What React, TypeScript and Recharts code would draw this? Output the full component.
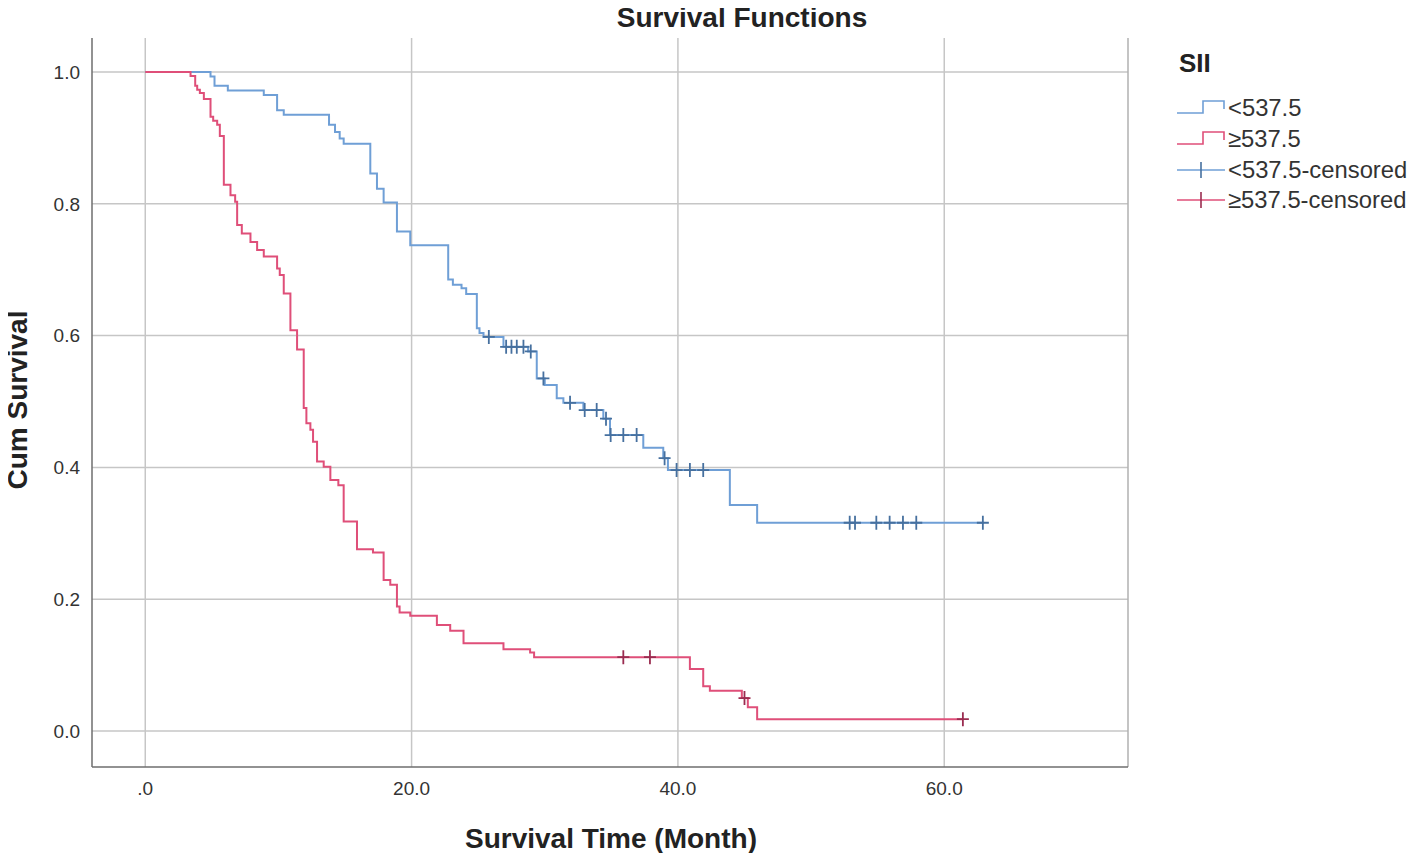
import React from 'react'
import {
  CartesianGrid,
  ComposedChart,
  Line,
  ReferenceLine,
  Scatter,
  XAxis,
  YAxis,
} from 'recharts'

// Kaplan-Meier steps: [month, cum survival]
const lowSteps: Array<[number, number]> = [
  [0, 1.0], [4.9, 0.993], [5.2, 0.979], [6.2, 0.972], [8.9, 0.965], [9.9, 0.942],
  [10.4, 0.935], [13.8, 0.92], [14.25, 0.909], [14.6, 0.899], [14.9, 0.891],
  [16.9, 0.846], [17.4, 0.823], [17.9, 0.802], [18.9, 0.758], [19.9, 0.737],
  [22.75, 0.685], [23.1, 0.677], [23.75, 0.672], [24.1, 0.663], [24.9, 0.611],
  [25.1, 0.604], [25.4, 0.598], [26.9, 0.583], [28.75, 0.576], [29.4, 0.535],
  [30.0, 0.525], [30.9, 0.505], [31.4, 0.498], [32.9, 0.487], [34.4, 0.474],
  [34.9, 0.449], [37.4, 0.43], [38.9, 0.414], [39.25, 0.396], [43.9, 0.343],
  [45.95, 0.316], [63.0, 0.316],
]

const highSteps: Array<[number, number]> = [
  [0, 1.0], [3.4, 0.994], [3.75, 0.979], [3.9, 0.973], [4.1, 0.968], [4.4, 0.959],
  [4.9, 0.932], [5.1, 0.926], [5.4, 0.92], [5.6, 0.903], [5.9, 0.829], [6.4, 0.813],
  [6.75, 0.803], [6.9, 0.768], [7.25, 0.755], [7.9, 0.742], [8.4, 0.73], [8.9, 0.72],
  [9.9, 0.702], [10.1, 0.692], [10.4, 0.664], [10.9, 0.608], [11.4, 0.579],
  [11.9, 0.49], [12.1, 0.467], [12.4, 0.457], [12.6, 0.439], [12.9, 0.409],
  [13.4, 0.401], [13.9, 0.381], [14.5, 0.373], [14.9, 0.318], [15.9, 0.276],
  [17.1, 0.271], [17.9, 0.229], [18.4, 0.222], [18.9, 0.189], [19.1, 0.18],
  [19.9, 0.175], [21.9, 0.161], [22.9, 0.152], [23.9, 0.133], [26.9, 0.124],
  [28.9, 0.119], [29.2, 0.112], [40.9, 0.094], [41.9, 0.068], [42.4, 0.061],
  [44.8, 0.05], [45.25, 0.036], [45.95, 0.018], [61.4, 0.018],
]

const lowCensored: Array<[number, number]> = [
  [25.8, 0.598], [27.1, 0.583], [27.5, 0.583], [27.9, 0.583], [28.4, 0.583],
  [28.95, 0.576], [29.9, 0.535], [31.9, 0.498], [33.0, 0.487], [33.9, 0.487],
  [34.6, 0.474], [34.95, 0.449], [35.9, 0.449], [36.9, 0.449], [39.0, 0.414],
  [39.9, 0.396], [40.9, 0.396], [41.9, 0.396], [52.9, 0.316], [53.3, 0.316],
  [54.9, 0.316], [55.9, 0.316], [56.9, 0.316], [57.9, 0.316], [62.9, 0.316],
]

const highCensored: Array<[number, number]> = [
  [35.9, 0.112], [37.9, 0.112], [45.0, 0.05], [61.4, 0.018],
]

const xTicks = [0, 20, 40, 60]
const yTicks = [0, 0.2, 0.4, 0.6, 0.8, 1.0]
const groupNames = ['<537.5', '≥537.5']

const BLUE = '#6f9fd6'
const RED = '#df4f79'
const BLUE_MARK = '#46709f'
const RED_MARK = '#9a2c50'
const FONT = 'Arial, "Liberation Sans", sans-serif'

const toRows = (pts: Array<[number, number]>) => pts.map(([t, s]) => ({ t, s }))

const censorShape = (color: string) => (props: any) => {
  const { cx, cy } = props
  if (cx == null || cy == null) return <g />
  return (
    <path
      d={`M${cx - 6},${cy}H${cx + 6}M${cx},${cy - 7}V${cy + 7}`}
      stroke={color}
      strokeWidth={1.8}
      fill="none"
    />
  )
}

const LegendBox = () => {
  const rowY = [108, 139, 170, 200]
  const items = [
    { label: groupNames[0], color: BLUE, kind: 'step' },
    { label: groupNames[1], color: RED, kind: 'step' },
    { label: `${groupNames[0]}-censored`, color: BLUE, kind: 'cross' },
    { label: `${groupNames[1]}-censored`, color: RED, kind: 'cross' },
  ]
  return (
    <div style={{ position: 'absolute', left: 0, top: 0, width: 1416, height: 861, pointerEvents: 'none' }}>
      <div style={{ position: 'absolute', left: 1179, top: 48, fontFamily: FONT, fontWeight: 'bold', fontSize: 26, color: '#222' }}>
        SII
      </div>
      <svg width={1416} height={861} style={{ position: 'absolute', left: 0, top: 0 }}>
        {items.map((it, i) => {
          const y = rowY[i]
          return (
            <g key={it.label}>
              {it.kind === 'step' ? (
                <path
                  d={`M1177,${y + 5}H1203V${y - 7}H1224V${y + 1}`}
                  stroke={it.color}
                  strokeWidth={1.6}
                  fill="none"
                />
              ) : (
                <g>
                  <path d={`M1177,${y}H1225`} stroke={it.color} strokeWidth={1.6} />
                  <path d={`M1201,${y - 8}V${y + 8}`} stroke={i === 2 ? BLUE_MARK : RED_MARK} strokeWidth={1.6} />
                </g>
              )}
              <text x={1228} y={y + 8} fontFamily={FONT} fontSize={23.8} fill="#333">
                {it.label}
              </text>
            </g>
          )
        })}
      </svg>
    </div>
  )
}

export default function App() {
  return (
    <div style={{ position: 'relative', width: 1400, height: 845, background: '#fff' }}>
      <ComposedChart
        width={1400}
        height={845}
        margin={{ top: 30, right: 280, bottom: 46, left: 0 }}
      >
        <CartesianGrid
          stroke="#c6c6c6"
          strokeWidth={1.5}
          horizontalValues={yTicks}
          verticalValues={xTicks}
        />
        <XAxis
          type="number"
          dataKey="t"
          domain={[-4, 73.8]}
          ticks={xTicks}
          allowDataOverflow
          height={40}
          tickLine={false}
          tickMargin={9}
          tickFormatter={(v: number) => (v === 0 ? '.0' : v.toFixed(1))}
          axisLine={{ stroke: '#6e6e6e', strokeWidth: 1.5 }}
          tick={{ fill: '#333', fontSize: 19, fontFamily: FONT }}
        />
        <YAxis
          type="number"
          dataKey="s"
          domain={[-0.0546, 1.0516]}
          ticks={yTicks}
          allowDataOverflow
          width={84}
          tickLine={false}
          tickMargin={6}
          tickFormatter={(v: number) => v.toFixed(1)}
          axisLine={{ stroke: '#6e6e6e', strokeWidth: 1.5 }}
          tick={{ fill: '#333', fontSize: 19, fontFamily: FONT }}
        />
        <ReferenceLine x={73.8} stroke="#b0b0b0" strokeWidth={1.5} />
        <Line
          data={toRows(lowSteps)}
          dataKey="s"
          type="stepAfter"
          stroke={BLUE}
          strokeWidth={2}
          dot={false}
          activeDot={false}
          isAnimationActive={false}
        />
        <Line
          data={toRows(highSteps)}
          dataKey="s"
          type="stepAfter"
          stroke={RED}
          strokeWidth={2}
          dot={false}
          activeDot={false}
          isAnimationActive={false}
        />
        <Scatter
          data={toRows(lowCensored)}
          dataKey="s"
          shape={censorShape(BLUE_MARK)}
          isAnimationActive={false}
        />
        <Scatter
          data={toRows(highCensored)}
          dataKey="s"
          shape={censorShape(RED_MARK)}
          isAnimationActive={false}
        />
      </ComposedChart>
      <div
        style={{
          position: 'absolute', left: 0, top: -6, width: 1468, textAlign: 'center',
          fontFamily: FONT, fontWeight: 'bold', fontSize: 28, color: '#222', lineHeight: '32px',
        }}
      >
        Survival Functions
      </div>
      <div
        style={{
          position: 'absolute', left: 0, top: 815, width: 1206, textAlign: 'center',
          fontFamily: FONT, fontWeight: 'bold', fontSize: 28, color: '#222', lineHeight: '32px',
        }}
      >
        Survival Time (Month)
      </div>
      <div
        style={{
          position: 'absolute', left: 18 - 190 - 8, top: 400 - 16 - 8, width: 380, textAlign: 'center',
          transform: 'rotate(-90deg)', fontFamily: FONT, fontWeight: 'bold', fontSize: 28,
          color: '#222', lineHeight: '32px',
        }}
      >
        Cum Survival
      </div>
      <div style={{ position: 'absolute', left: -8, top: -8 }}>
        <LegendBox />
      </div>
    </div>
  )
}
